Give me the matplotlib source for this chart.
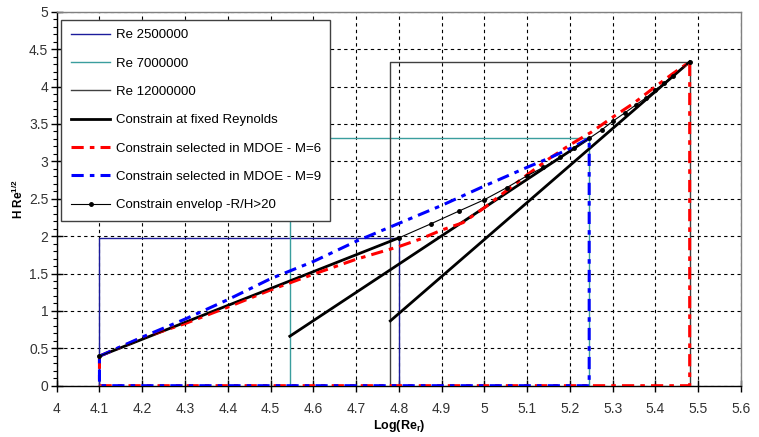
import matplotlib
matplotlib.use("Agg")
import matplotlib.pyplot as plt
from matplotlib.ticker import MultipleLocator, FixedLocator

plt.rcParams['font.family'] = ['Liberation Sans', 'DejaVu Sans']

# Reynolds boxes: [x_left, x_right], top value
re_labels = ["Re 2500000", "Re 7000000", "Re 12000000"]
re_xleft = [4.10, 4.545, 4.78]
re_xright = [4.80, 5.245, 5.48]
re_top = [1.976, 3.307, 4.33]
re_colors = ["#1c1c9c", "#3a9e9e", "#404040"]

# Constraint at fixed Reynolds (straight segments)
fix_x0 = [4.10, 4.545, 4.78]
fix_y0 = [0.395, 0.661, 0.866]
fix_x1 = [4.80, 5.245, 5.48]
fix_y1 = [1.976, 3.307, 4.33]

# Constraint selected in MDOE - M=6
m6_x = [4.10, 4.20, 4.30, 4.40, 4.50, 4.60, 4.70, 4.80, 4.85, 4.90, 4.95,
        5.00, 5.05, 5.10, 5.15, 5.20, 5.25, 5.30, 5.35, 5.40, 5.44, 5.48]
m6_y = [0.395, 0.64, 0.83, 1.05, 1.28, 1.49, 1.69, 1.86, 1.96, 2.08, 2.18,
        2.38, 2.60, 2.82, 3.03, 3.22, 3.39, 3.59, 3.78, 4.00, 4.17, 4.33]

# Constraint selected in MDOE - M=9
m9_x = [4.10, 4.20, 4.30, 4.40, 4.50, 4.60, 4.70, 4.80, 4.90, 5.00,
        5.10, 5.15, 5.20, 5.245]
m9_y = [0.395, 0.65, 0.89, 1.15, 1.43, 1.66, 1.93, 2.17, 2.41, 2.67,
        2.92, 3.04, 3.17, 3.307]

# Constraint envelope -R/H>20
env_x = [4.10, 4.80, 4.874, 4.941, 5.00, 5.052, 5.099, 5.138, 5.177, 5.21,
         5.245, 5.274, 5.301, 5.329, 5.354, 5.378, 5.40, 5.42, 5.44, 5.48]
env_y = [0.395, 1.976, 2.162, 2.336, 2.487, 2.647, 2.804, 2.92, 3.053, 3.178,
         3.307, 3.419, 3.539, 3.65, 3.753, 3.85, 3.953, 4.043, 4.144, 4.33]

x_ticks = [4.0, 4.1, 4.2, 4.3, 4.4, 4.5, 4.6, 4.7, 4.8, 4.9, 5.0,
           5.1, 5.2, 5.3, 5.4, 5.5, 5.6]
x_ticklabels = ["4", "4.1", "4.2", "4.3", "4.4", "4.5", "4.6", "4.7", "4.8",
                "4.9", "5", "5.1", "5.2", "5.3", "5.4", "5.5", "5.6"]
y_ticks = [0, 0.5, 1, 1.5, 2, 2.5, 3, 3.5, 4, 4.5, 5]
y_ticklabels = ["0", "0.5", "1", "1.5", "2", "2.5", "3", "3.5", "4", "4.5", "5"]

fig = plt.figure(figsize=(7.59, 4.37), dpi=100)
ax = fig.add_axes([0.0747, 0.1174, 0.9016, 0.8558])
ax.set_xlim(4.0, 5.6)
ax.set_ylim(0, 5)

# grid
ax.set_axisbelow(True)
ax.grid(True, which='major', color='black', linestyle=(0, (3, 3)), linewidth=0.8)

# Re boxes
for lab, xl, xr, top, c in zip(re_labels, re_xleft, re_xright, re_top, re_colors):
    ax.plot([xl, xl, xr, xr], [0, top, top, 0], color=c, lw=1.0, label=lab, zorder=2)

# fixed Reynolds constraints
for i, (a, b, c, d) in enumerate(zip(fix_x0, fix_y0, fix_x1, fix_y1)):
    ax.plot([a, c], [b, d], color='black', lw=2.0, zorder=3,
            label="Constrain at fixed Reynolds" if i == 0 else None)

# M=6 polygon (red)
ax.plot(m6_x + [m6_x[-1], m6_x[0], m6_x[0]], m6_y + [0, 0, m6_y[0]],
        color='#ff0000', lw=2.2, dashes=(4, 2, 1.5, 2), zorder=4,
        label="Constrain selected in MDOE - M=6")
# M=9 polygon (blue)
ax.plot(m9_x + [m9_x[-1], m9_x[0], m9_x[0]], m9_y + [0, 0, m9_y[0]],
        color='#0000ff', lw=2.2, dashes=(4, 2, 1.5, 2), zorder=5,
        label="Constrain selected in MDOE - M=9")

# envelope
ax.plot(env_x, env_y, color='black', lw=0.8, marker='o', markersize=2.5,
        zorder=6, label="Constrain envelop -R/H>20")

ax.xaxis.set_major_locator(FixedLocator(x_ticks))
ax.set_xticklabels(x_ticklabels)
ax.yaxis.set_major_locator(FixedLocator(y_ticks))
ax.set_yticklabels(y_ticklabels)
ax.yaxis.set_minor_locator(MultipleLocator(0.1))

ax.tick_params(axis='both', which='major', direction='inout', length=8, width=1,
               labelsize=10, labelcolor='#333333', color='black')
ax.tick_params(axis='x', which='major', pad=8)
ax.tick_params(axis='y', which='major', pad=2)
ax.tick_params(axis='y', which='minor', direction='out', length=3, width=0.8)

for s in ['top', 'right']:
    ax.spines[s].set_color('#808080')
    ax.spines[s].set_linewidth(1.0)
for s in ['left', 'bottom']:
    ax.spines[s].set_color('black')
    ax.spines[s].set_linewidth(1.0)

ax.set_xlabel(r'Log(Re$_\mathregular{r}$)', fontsize=9, fontweight='bold', labelpad=1)
ax.set_ylabel(r'H Re$^\mathregular{1/2}$', fontsize=8.5, fontweight='bold', labelpad=2)

leg = ax.legend(loc='upper left', bbox_to_anchor=(0.007, 0.978), borderaxespad=0,
                fontsize=9.5, frameon=True, fancybox=False, framealpha=1,
                edgecolor='#404040', handlelength=3.0, handletextpad=0.4,
                labelspacing=1.22, borderpad=0.7)
leg.get_frame().set_linewidth(1.0)

fig.savefig('out.png', dpi=100)
